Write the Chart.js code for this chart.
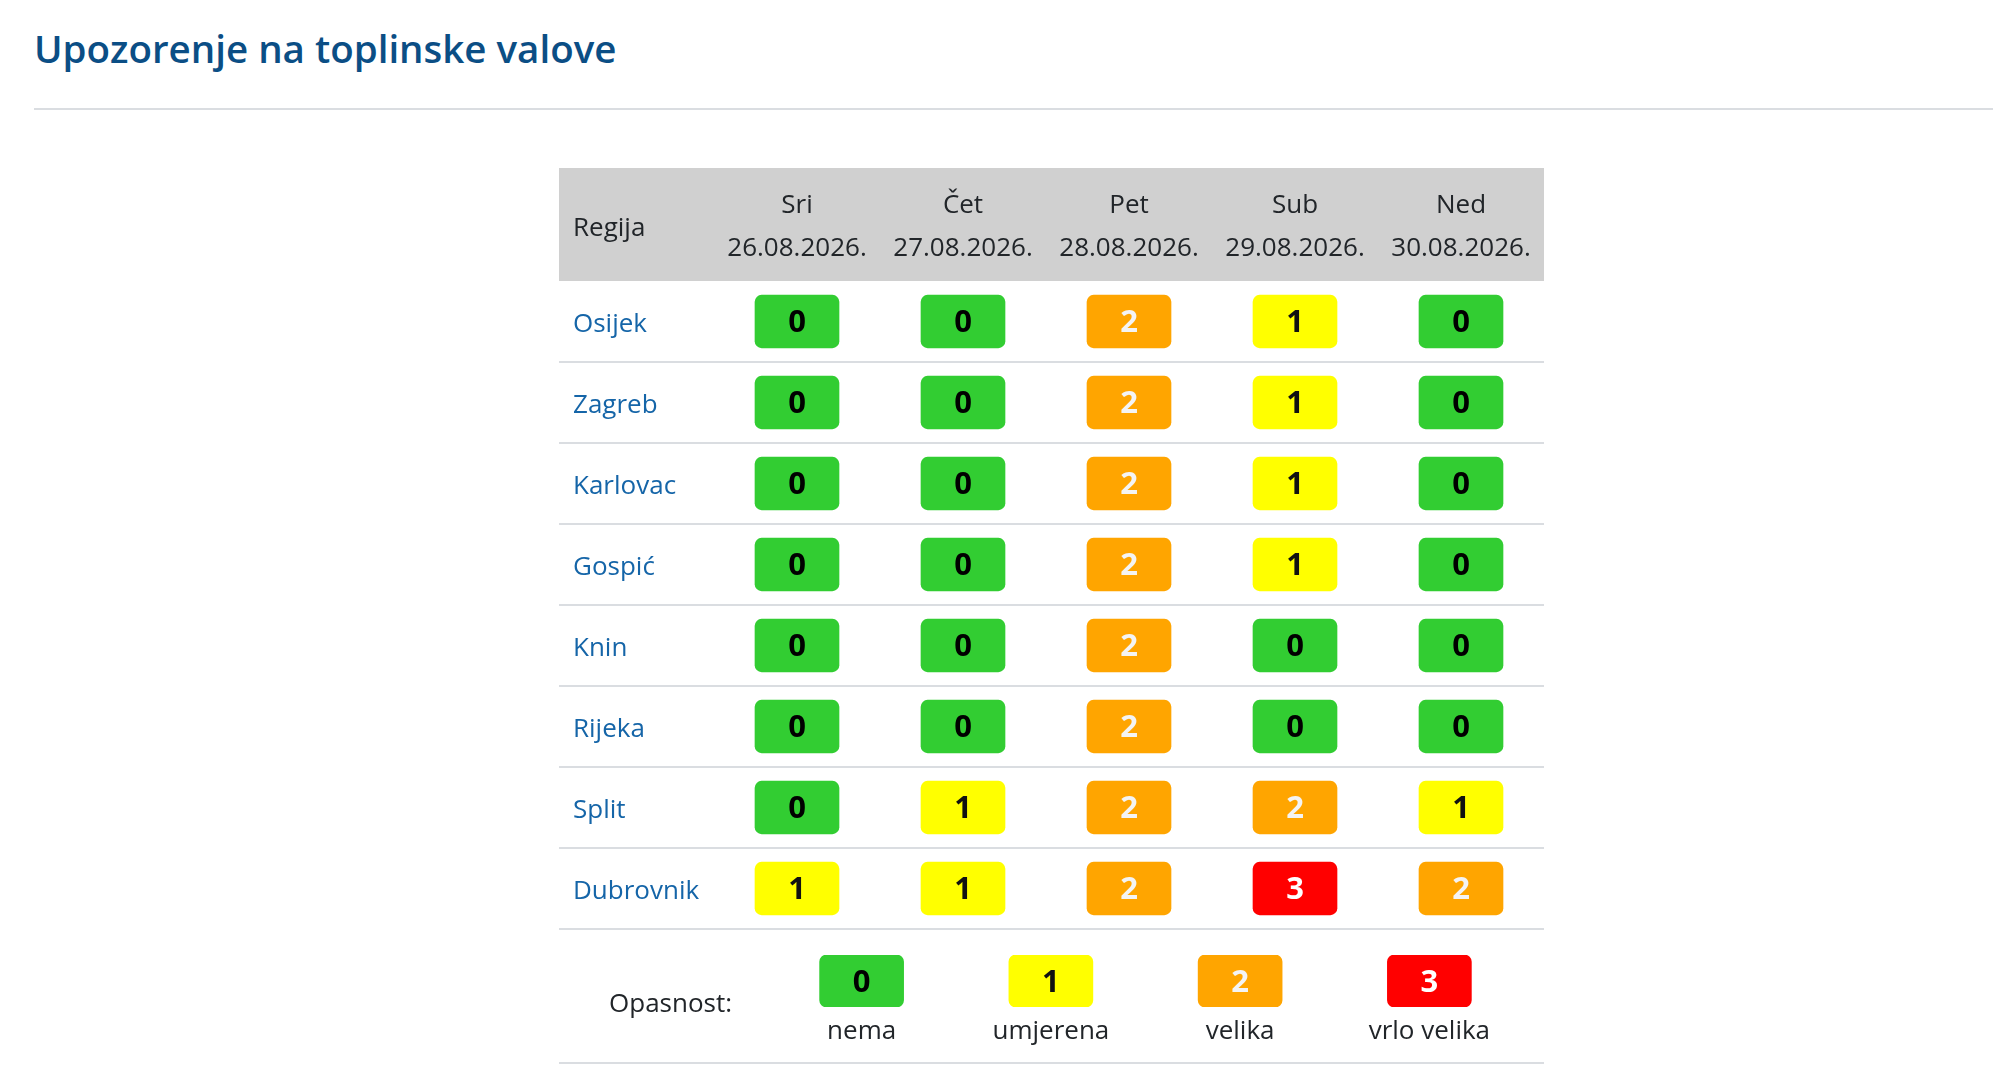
<!DOCTYPE html>
<html>
<head>
<meta charset="utf-8">
<title>Upozorenje na toplinske valove</title>
<script src="https://cdn.jsdelivr.net/npm/chart.js@4.4.1/dist/chart.umd.min.js"></script>
<style>
    body { margin: 0; background: #fff; width: 1993px; height: 1080px; position: relative; overflow: hidden; }
    h2 {
        position: absolute; left: 34px; top: 29px; margin: 0;
        font-family: 'Open Sans', sans-serif; font-weight: 600; font-size: 38.5px; line-height: 1;
        color: #0b4e85;
    }
    .rule { position: absolute; left: 34px; top: 108px; width: 1959px; height: 2px; background: #dadde1; }
    #tableChart { position: absolute; left: 559px; top: 168px; }
    #legendChart { position: absolute; left: 559px; top: 931px; }
</style>
</head>
<body>
<h2>Upozorenje na toplinske valove</h2>
<div class="rule"></div>
<canvas id="tableChart" width="985" height="782"></canvas>
<canvas id="legendChart" width="985" height="133"></canvas>
<script>
    const days = ['Sri', 'Čet', 'Pet', 'Sub', 'Ned'];
    const dates = ['26.08.2026.', '27.08.2026.', '28.08.2026.', '29.08.2026.', '30.08.2026.'];
    const regions = ['Osijek', 'Zagreb', 'Karlovac', 'Gospić', 'Knin', 'Rijeka', 'Split', 'Dubrovnik'];

    // razina opasnosti po regiji, Sri..Ned
    const osijek = [0, 0, 2, 1, 0];
    const zagreb = [0, 0, 2, 1, 0];
    const karlovac = [0, 0, 2, 1, 0];
    const gospic = [0, 0, 2, 1, 0];
    const knin = [0, 0, 2, 0, 0];
    const rijeka = [0, 0, 2, 0, 0];
    const split = [0, 1, 2, 2, 1];
    const dubrovnik = [1, 1, 2, 3, 2];
    const levels = [osijek, zagreb, karlovac, gospic, knin, rijeka, split, dubrovnik];

    const levelValues = [0, 1, 2, 3];
    const levelNames = ['nema', 'umjerena', 'velika', 'vrlo velika'];
    const legendTitle = 'Opasnost:';
    const headerTitle = 'Regija';

    const levelColors = ['#32cd32', '#ffff00', '#ffa500', '#ff0000'];
    const levelTextColors = ['#000000', '#111111', '#f4f4f4', '#ffffff'];

    const fontFamily = "'Open Sans', sans-serif";
    const textColor = '#212529';
    const lineColor = '#dadde1';

    Chart.defaults.font.family = fontFamily;
    Chart.defaults.font.size = 26;
    Chart.defaults.color = textColor;

    // broj razine u sredini svake plocice
    const badgeText = {
        id: 'badgeText',
        afterDatasetsDraw(chart) {
            const ctx = chart.ctx;
            ctx.save();
            ctx.font = `bold 31px ${fontFamily}`;
            ctx.textAlign = 'center';
            ctx.textBaseline = 'middle';
            chart.data.datasets.forEach((ds, di) => {
                chart.getDatasetMeta(di).data.forEach((bar, j) => {
                    const v = ds.levels[j];
                    ctx.fillStyle = levelTextColors[v];
                    ctx.fillText(String(v), bar.x, (bar.y + bar.base) / 2 + 2);
                });
            });
            ctx.restore();
        }
    };

    // sivo zaglavlje (ispod osi) i crte izmedju redova
    const tableFrame = {
        id: 'tableFrame',
        beforeDraw(chart) {
            const ctx = chart.ctx;
            const x = chart.scales.x;
            ctx.save();
            ctx.fillStyle = '#d0d0d0';
            ctx.fillRect(0, 0, chart.width, x.bottom);
            ctx.fillStyle = textColor;
            ctx.font = `26px ${fontFamily}`;
            ctx.textAlign = 'left';
            ctx.textBaseline = 'middle';
            ctx.fillText(headerTitle, chart.options.layout.padding.left, x.bottom - 52);
            ctx.restore();
        },
        beforeDatasetsDraw(chart) {
            const ctx = chart.ctx;
            const y = chart.scales.y;
            ctx.save();
            ctx.fillStyle = lineColor;
            for (let i = 1; i <= regions.length; i++) {
                const py = Math.round(y.getPixelForValue(i));
                ctx.fillRect(0, py - 1, chart.width, 2);
            }
            ctx.restore();
        }
    };

    const legendFrame = {
        id: 'legendFrame',
        beforeDatasetsDraw(chart) {
            const ctx = chart.ctx;
            ctx.save();
            ctx.fillStyle = lineColor;
            ctx.fillRect(0, chart.height - 2, chart.width, 2);
            ctx.restore();
        }
    };

    const tableData = {
        labels: days.map((d, i) => [d, dates[i]]),
        datasets: regions.map((r, i) => ({
            label: r,
            levels: levels[i],
            data: levels[i].map(() => [i + 0.175, i + 0.825]),
            backgroundColor: levels[i].map(v => levelColors[v]),
            grouped: false,
            barThickness: 84,
            borderRadius: 7,
            borderSkipped: false,
        }))
    };

    const tableConfig = {
        type: 'bar',
        data: tableData,
        options: {
            responsive: false,
            animation: false,
            events: [],
            layout: { padding: { left: 14, right: 0, top: 0, bottom: 21 } },
            plugins: {
                legend: { display: false },
                tooltip: { enabled: false },
            },
            scales: {
                x: {
                    position: 'top',
                    grid: { display: false, drawTicks: false },
                    border: { display: false },
                    ticks: {
                        color: textColor,
                        font: { size: 26, lineHeight: 1.65 },
                        padding: 11,
                        maxRotation: 0,
                        autoSkip: false,
                    },
                    afterFit: s => { s.height = 113; },
                },
                y: {
                    type: 'linear',
                    min: 0,
                    max: regions.length,
                    reverse: true,
                    grid: { display: false, drawTicks: false },
                    border: { display: false },
                    // oznaka regije malo ispod sredine reda, kao u tablici
                    afterBuildTicks: s => { s.ticks = regions.map((r, i) => ({ value: i + 0.54 })); },
                    ticks: {
                        color: '#1565a8',
                        crossAlign: 'far',
                        autoSkip: false,
                        font: { size: 26, lineHeight: 1.2 },
                        callback: (v, i) => regions[i],
                    },
                    afterFit: s => { s.width = 141; },
                },
            }
        },
        plugins: [tableFrame, badgeText],
    };

    const legendConfig = {
        type: 'bar',
        data: {
            labels: levelNames,
            datasets: [{
                label: legendTitle,
                levels: levelValues,
                data: levelValues.map(() => [0, 1]),
                backgroundColor: levelValues.map(v => levelColors[v]),
                barThickness: 84,
                borderRadius: 7,
                borderSkipped: false,
            }]
        },
        options: {
            responsive: false,
            animation: false,
            events: [],
            layout: { padding: { left: 50, right: 20, top: 24, bottom: 0 } },
            plugins: {
                legend: { display: false },
                tooltip: { enabled: false },
            },
            scales: {
                x: {
                    grid: { display: false, drawTicks: false },
                    border: { display: false },
                    ticks: {
                        color: textColor,
                        font: { size: 26, lineHeight: 1.2 },
                        padding: 9,
                        maxRotation: 0,
                        autoSkip: false,
                    },
                    afterFit: s => { s.height = 57; },
                },
                y: {
                    min: 0,
                    max: 1,
                    grid: { display: false, drawTicks: false },
                    border: { display: false },
                    afterBuildTicks: s => { s.ticks = [{ value: 0.04 }]; },
                    ticks: {
                        color: textColor,
                        crossAlign: 'far',
                        callback: () => legendTitle,
                    },
                    afterFit: s => { s.width = 158; },
                },
            }
        },
        plugins: [legendFrame, badgeText],
    };

    new Chart(document.getElementById('tableChart'), tableConfig);
    new Chart(document.getElementById('legendChart'), legendConfig);
</script>
</body>
</html>
